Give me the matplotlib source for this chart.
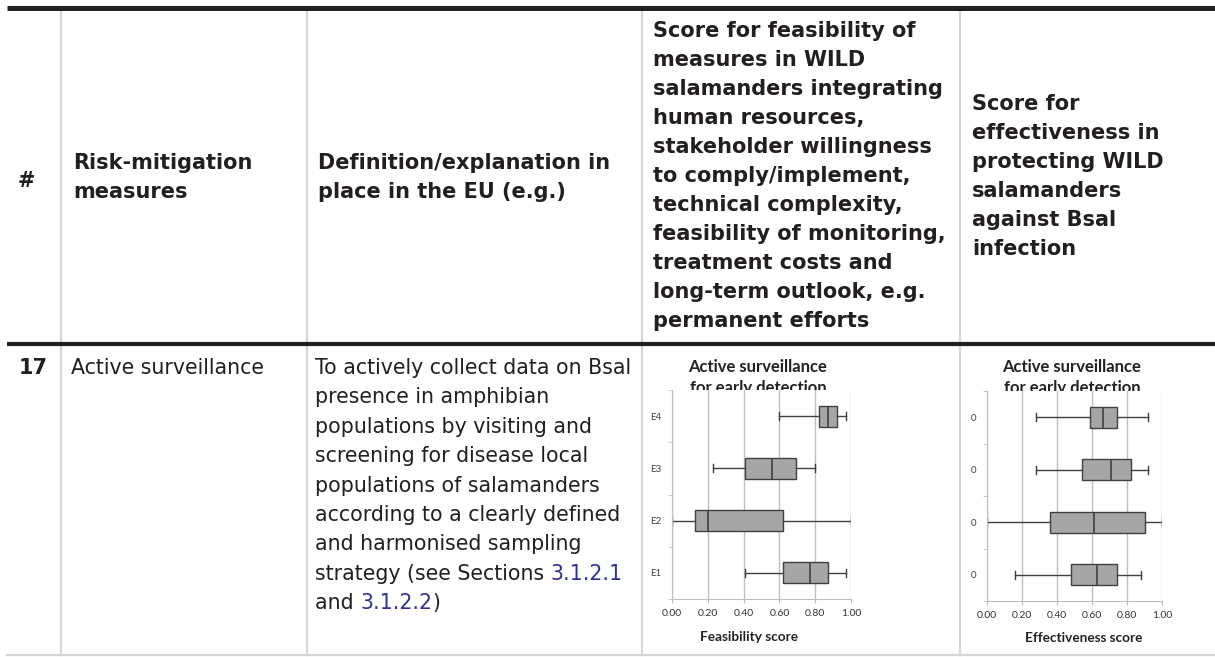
import matplotlib.pyplot as plt
from matplotlib import font_manager

W, H = 1215, 657
INK = "#231f20"
RULE = "#d6d6d6"
LINK = "#2e3192"
GRID = "#bfbfbf"
BOX_FACE = "#a6a6a6"
BOX_EDGE = "#404040"

# table text
header_num = "#"
header_measure = ["Risk-mitigation", "measures"]
header_definition = ["Definition/explanation in", "place in the EU (e.g.)"]
header_feasibility = [
    "Score for feasibility of",
    "measures in WILD",
    "salamanders integrating",
    "human resources,",
    "stakeholder willingness",
    "to comply/implement,",
    "technical complexity,",
    "feasibility of monitoring,",
    "treatment costs and",
    "long-term outlook, e.g.",
    "permanent efforts",
]
header_effectiveness = [
    "Score for",
    "effectiveness in",
    "protecting WILD",
    "salamanders",
    "against Bsal",
    "infection",
]
row_num = "17"
row_measure = "Active surveillance"
row_definition = [
    [("To actively collect data on Bsal", INK)],
    [("presence in amphibian", INK)],
    [("populations by visiting and", INK)],
    [("screening for disease local", INK)],
    [("populations of salamanders", INK)],
    [("according to a clearly defined", INK)],
    [("and harmonised sampling", INK)],
    [("strategy (see Sections ", INK), ("3.1.2.1", LINK)],
    [("and ", INK), ("3.1.2.2", LINK), (")", INK)],
]

# box plot data, rows from bottom to top
chart_title = ["Active surveillance", "for early detection"]

feas_labels = ["E1", "E2", "E3", "E4"]
feas_lo = [0.41, 0.00, 0.23, 0.60]
feas_q1 = [0.62, 0.13, 0.41, 0.82]
feas_med = [0.77, 0.20, 0.56, 0.87]
feas_q3 = [0.87, 0.62, 0.69, 0.92]
feas_hi = [0.97, 1.00, 0.80, 0.97]

eff_labels = ["0", "0", "0", "0"]
eff_lo = [0.16, 0.00, 0.28, 0.28]
eff_q1 = [0.48, 0.36, 0.54, 0.59]
eff_med = [0.63, 0.61, 0.71, 0.66]
eff_q3 = [0.74, 0.90, 0.82, 0.74]
eff_hi = [0.88, 1.00, 0.92, 0.92]

x_ticks = [0.0, 0.2, 0.4, 0.6, 0.8, 1.0]

fig = plt.figure(figsize=(W / 100, H / 100), dpi=100)
bg = fig.add_axes([0, 0, 1, 1])
bg.set_xlim(0, W)
bg.set_ylim(H, 0)
bg.axis("off")

# table rules
for x in [61, 307, 642, 960]:
    bg.plot([x, x], [10, 655], color=RULE, lw=1.6, zorder=1)
bg.plot([7, W], [655, 655], color=RULE, lw=1.6, zorder=1)
bg.plot([7, W], [7.5, 7.5], color=INK, lw=3.6, solid_capstyle="butt", zorder=2)
bg.plot([7, W], [344, 344], color=INK, lw=3.0, solid_capstyle="butt", zorder=2)

bold = dict(family="DejaVu Sans", weight="bold", size=15, color=INK)
body = dict(family="DejaVu Sans", size=14.8)
line_step = 29

bg.text(18, 187, header_num, va="baseline", **bold)
for i, line in enumerate(header_measure):
    bg.text(73, 169 + i * line_step, line, va="baseline", **bold)
for i, line in enumerate(header_definition):
    bg.text(318, 169 + i * line_step, line, va="baseline", **bold)
for i, line in enumerate(header_feasibility):
    bg.text(653, 37 + i * line_step, line, va="baseline", **bold)
for i, line in enumerate(header_effectiveness):
    bg.text(972, 110 + i * line_step, line, va="baseline", **bold)

# body row
bg.text(19, 374, row_num, va="baseline", **bold)
bg.text(71, 374, row_measure, va="baseline", color=INK, **body)

renderer = fig.canvas.get_renderer()
inv = bg.transData.inverted()
for i, runs in enumerate(row_definition):
    x = 315
    y = 374 + i * 29.4
    for text, color in runs:
        t = bg.text(x, y, text, va="baseline", color=color, **body)
        right = t.get_window_extent(renderer).x1
        x = inv.transform((right, 0))[0]


def draw_box_chart(left, top, right, bottom, labels, lo, q1, med, q3, hi,
                   xlabel, label_x, label_y, title_x):
    ax = fig.add_axes([left / W, 1 - bottom / H, (right - left) / W,
                       (bottom - top) / H])
    stats = [
        dict(whislo=a, q1=b, med=c, q3=d, whishi=e, label=name)
        for a, b, c, d, e, name in zip(lo, q1, med, q3, hi, labels)
    ]
    ax.bxp(
        stats,
        positions=[1, 2, 3, 4],
        orientation="horizontal",
        widths=0.4,
        capwidths=0.15,
        showfliers=False,
        patch_artist=True,
        boxprops=dict(facecolor=BOX_FACE, edgecolor=BOX_EDGE, linewidth=1.0),
        medianprops=dict(color=BOX_EDGE, linewidth=1.2),
        whiskerprops=dict(color=BOX_EDGE, linewidth=1.0),
        capprops=dict(color=BOX_EDGE, linewidth=1.0),
    )
    ax.set_xlim(0, 1)
    ax.set_ylim(0.5, 4.5)
    ax.set_xticks(x_ticks, [f"{v:.2f}" for v in x_ticks])
    ax.set_yticks([1, 2, 3, 4], labels)
    ax.set_yticks([0.5, 1.5, 2.5, 3.5, 4.5], minor=True)
    ax.tick_params(axis="y", which="major", length=0, pad=8,
                   labelsize=7, labelcolor="#404040")
    ax.tick_params(axis="y", which="minor", length=3, color=GRID)
    ax.tick_params(axis="x", length=3, color=GRID, pad=4,
                   labelsize=7.5, labelcolor="#333333")
    for label in ax.get_xticklabels() + ax.get_yticklabels():
        label.set_family("Lato")
    ax.grid(axis="x", color=GRID, linewidth=1.0)
    ax.set_axisbelow(True)
    for side in ["top", "right"]:
        ax.spines[side].set_visible(False)
    for side in ["left", "bottom"]:
        ax.spines[side].set_color(GRID)
    ax.set_xlabel(xlabel, family="Lato", weight="bold", size=9.8, color="#222222")
    ax.xaxis.set_label_coords(label_x, label_y)
    ax.xaxis.label.set_va("center")

    for i, line in enumerate(chart_title):
        bg.text(title_x, 367 + i * 21, line, ha="center", va="center",
                family="Lato", weight="bold", size=12, color="#222222")
    return ax


draw_box_chart(672, 390, 851, 599, feas_labels, feas_lo, feas_q1, feas_med,
               feas_q3, feas_hi, "Feasibility score", 0.43, -0.18, 758)
draw_box_chart(987, 391, 1162, 601, eff_labels, eff_lo, eff_q1, eff_med,
               eff_q3, eff_hi, "Effectiveness score", 0.55, -0.177, 1072)

fig.savefig("out.png", dpi=100)
